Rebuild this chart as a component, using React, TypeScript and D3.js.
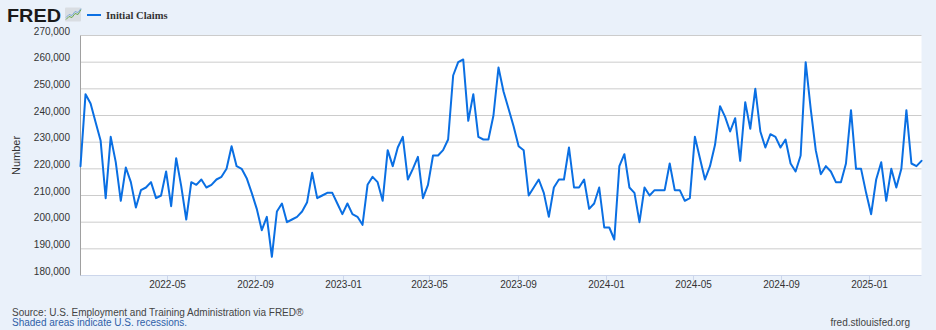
import React from "react";
import * as d3 from "d3";

// Weekly initial claims, week ending Saturday, starting 2022-01-01 (values in thousands)
const START_DATE = "2022-01-01";
const END_DATE = "2025-03-15";
const claimsK: number[] = [
  221, 248, 244.5, 237.5, 230.5, 209, 232, 222.5, 208, 220.5,
  215, 205.5, 212, 213, 215, 209, 210, 219, 206, 224,
  213.5, 201, 215, 214, 216, 213, 214, 216, 217, 220,
  228.5, 221, 220, 216.5, 211, 205, 197, 202, 187, 204,
  207, 200, 201, 202, 204, 207.5, 218.5, 209, 210, 211,
  211, 207, 203, 207, 203, 202, 199, 214, 217, 215,
  208, 227, 221, 228, 232, 216, 220, 224.5, 209, 214,
  225, 225, 227, 231, 255, 260, 261, 238, 248, 232,
  231, 231, 240, 258, 249, 242.5, 236, 228.5, 227, 210,
  213, 216, 211, 202, 213, 216, 216, 228, 213, 213,
  216, 205, 207, 213, 198, 198, 193.5, 221, 225.5, 213,
  211, 200, 213, 210, 212, 212, 212, 222, 212, 212,
  208, 209, 232, 224, 216, 221, 229, 243.5, 239.5, 234,
  239, 223, 245, 235, 250, 234, 228, 233, 232, 228,
  231, 222, 219, 225, 260, 242.5, 227, 218, 221, 219,
  215, 215, 222, 242, 220, 220, 211, 203, 216, 222.5,
  208, 220, 213, 220, 242, 222, 221, 223,
];
const yTicks: number[] = [180000, 190000, 200000, 210000, 220000, 230000, 240000, 250000, 260000, 270000];
const xTickLabels: string[] = ["2022-05", "2022-09", "2023-01", "2023-05", "2023-09", "2024-01", "2024-05", "2024-09", "2025-01"];
const seriesName = "Initial Claims";
const yTitle = "Number";
const sourceText = "Source: U.S. Employment and Training Administration via FRED®";
const shadedText = "Shaded areas indicate U.S. recessions.";
const siteText = "fred.stlouisfed.org";

const W = 936;
const H = 330;
const M = { left: 80.5, right: 921.5, top: 35.5, bottom: 275.5 };
const BG = "#eaf1fa";
const LINE = "#0a6fe3";
const FONT = "'Liberation Sans', Arial, Helvetica, sans-serif";

const parse = d3.utcParse("%Y-%m-%d");
const parseMonth = d3.utcParse("%Y-%m");

export default function App() {
  const start = parse(START_DATE)!;
  const end = parse(END_DATE)!;
  const data = claimsK.map((v, i) => ({ date: d3.utcDay.offset(start, 7 * i), value: v * 1000 }));

  const x = d3.scaleUtc().domain([start, end]).range([M.left, M.right]);
  const y = d3.scaleLinear().domain([180000, 270000]).range([M.bottom, M.top]);
  const fmt = d3.format(",");

  const line = d3
    .line<{ date: Date; value: number }>()
    .x((d) => x(d.date))
    .y((d) => y(d.value));

  return (
    <svg
      width={W}
      height={H}
      style={{ position: "fixed", left: 0, top: 0, display: "block" }}
      fontFamily={FONT}
    >
      <rect x={0} y={0} width={W} height={H} fill={BG} />
      <rect x={M.left} y={M.top} width={M.right - M.left} height={M.bottom - M.top} fill="#ffffff" />

      {/* Header: FRED logo and legend */}
      <text
        x={7}
        y={21.5}
        fontSize={17.5}
        fontWeight={900}
        fill="#1a1a1a"
        textLength={54}
        lengthAdjust="spacingAndGlyphs"
        fontFamily="'Liberation Sans', Arial, sans-serif"
      >
        FRED
      </text>
      <g>
        <rect x={65} y={7.5} width={16} height={14} fill="#d9dde2" rx={1} />
        <path d="M66,19.5 L69,16.5 L72,17.5 L75,13.5 L78,14.5 L81,9.5" fill="none" stroke="#6aa84f" strokeWidth={1} />
        <path d="M66,17.5 L69,14.5 L72,15.5 L75,11.5 L78,12.5 L81,8.5" fill="none" stroke="#7fa9d9" strokeWidth={1} />
      </g>
      <line x1={87} x2={101} y1={15} y2={15} stroke={LINE} strokeWidth={2} />
      <text x={106} y={18.5} fontSize={10.5} fontWeight="bold" fill="#333" fontFamily="'Liberation Serif', 'Times New Roman', serif">
        {seriesName}
      </text>

      {/* Gridlines and y labels */}
      {yTicks.map((t) => (
        <g key={t}>
          {t !== 180000 && (
            <line x1={M.left} x2={M.right} y1={y(t)} y2={y(t)} stroke="#cccccc" strokeWidth={1} />
          )}
          <text x={70} y={y(t) - 1} textAnchor="end" fontSize={10} fill="#333">
            {fmt(t)}
          </text>
        </g>
      ))}

      {/* Axes */}
      <line x1={M.left} x2={M.right} y1={M.bottom} y2={M.bottom} stroke="#ccd6eb" strokeWidth={1} />
      <line x1={M.left} x2={M.left} y1={M.top} y2={M.bottom} stroke="#a0a0a0" strokeWidth={1} />
      {xTickLabels.map((lbl) => {
        const xx = Math.round(x(parseMonth(lbl)!)) + 0.5;
        return (
          <g key={lbl}>
            <line x1={xx} x2={xx} y1={M.bottom} y2={M.bottom + 5} stroke="#ccd6eb" strokeWidth={1} />
            <text x={xx} y={M.bottom + 12.5} textAnchor="middle" fontSize={10} fill="#333">
              {lbl}
            </text>
          </g>
        );
      })}

      <text
        transform={`translate(${20},${(M.top + M.bottom) / 2}) rotate(-90)`}
        textAnchor="middle"
        fontSize={11}
        fill="#333"
      >
        {yTitle}
      </text>

      {/* Series */}
      <path d={line(data) ?? ""} fill="none" stroke={LINE} strokeWidth={2} strokeLinejoin="round" strokeLinecap="round" />

      {/* Footer */}
      <text x={12} y={315.5} fontSize={10} fill="#444">
        {sourceText}
      </text>
      <text x={12} y={326} fontSize={10} fill="#2f5fa8">
        {shadedText}
      </text>
      <text x={910} y={326} fontSize={10} fill="#444" textAnchor="end">
        {siteText}
      </text>
    </svg>
  );
}
